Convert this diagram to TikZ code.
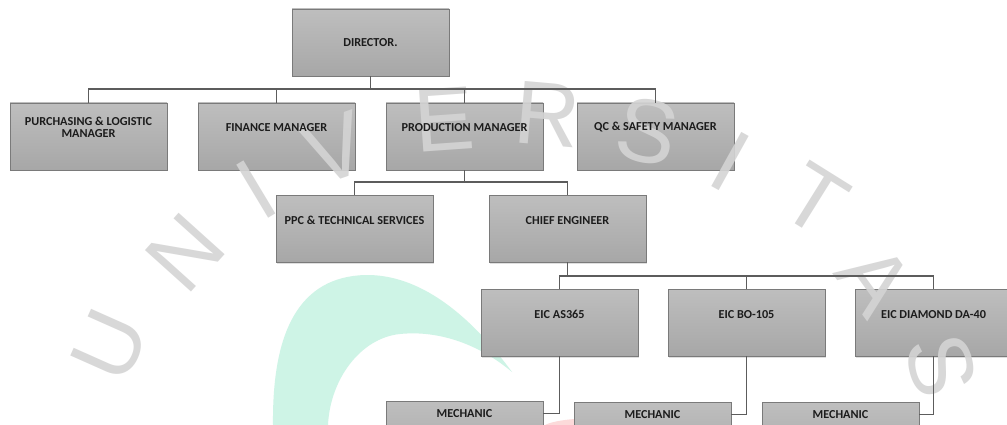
\documentclass[tikz,border=0pt]{standalone}
\usepackage{fontspec}
\setmainfont{Carlito}
\newfontfamily\wmfont{Liberation Sans}
\usetikzlibrary{shadows}
\definecolor{boxtop}{HTML}{BEBEBE}
\definecolor{boxbot}{HTML}{A7A7A7}
\definecolor{boxedge}{HTML}{7A7A7A}
\definecolor{linkcol}{HTML}{5C5C5C}
\definecolor{lbltext}{HTML}{1C1C1C}
\definecolor{wmcol}{HTML}{D4D4D4}
\definecolor{tealwm}{HTML}{CEF4E6}
\definecolor{pinkwm}{HTML}{FCDADA}
\begin{document}
\begin{tikzpicture}[x=1pt,y=-1pt,
  orgbox/.style={draw=boxedge, line width=0.9pt, top color=boxtop, bottom color=boxbot,
    minimum width=157pt, minimum height=67pt, inner sep=0pt,
    drop shadow={shadow xshift=1pt, shadow yshift=-1.5pt, opacity=0.25}},
  lbl/.style={font=\bfseries\fontsize{12.2}{11.8}\selectfont, text=lbltext, align=center, inner sep=0pt},
  link/.style={draw=linkcol, line width=1.4pt},
  wm/.style={font=\wmfont\fontsize{90}{90}\selectfont, text=wmcol, text opacity=0.9, inner sep=0pt}]
\useasboundingbox (0,0) rectangle (1007,425);
\begin{scope}
\clip (0,0) rectangle (1007,425);
\fill[white] (0,0) rectangle (1007,425);
% watermark background shapes
\fill[tealwm] (273,425) .. controls (272,330) and (300,277) .. (365,275)
  .. controls (420,274) and (470,315) .. (512,372)
  .. controls (480,345) and (440,330) .. (400,334)
  .. controls (360,338) and (330,380) .. (328,425) -- cycle;
\fill[pinkwm] (545,425) .. controls (560,417) and (620,415) .. (645,425) -- cycle;
% boxes
\node[orgbox] (dir) at (370.5,42.5) {};
\node[orgbox] (pur) at (88.5,136.5) {};
\node[orgbox] (fin) at (276.5,136.5) {};
\node[orgbox] (prod) at (464.5,136.5) {};
\node[orgbox] (qc) at (655.5,136.5) {};
\node[orgbox] (ppc) at (354.5,228.5) {};
\node[orgbox] (chief) at (567.5,228.5) {};
\node[orgbox] (as) at (559.5,322.5) {};
\node[orgbox] (bo) at (746.5,322.5) {};
\node[orgbox] (dia) at (933.5,322.5) {};
\node[orgbox] (m1) at (464.5,434.5) {};
\node[orgbox] (m2) at (652.5,435.5) {};
\node[orgbox] (m3) at (840.5,435.5) {};
% watermark letters
\node[wm, rotate=66] (wU) at (110,345) {U};
\node[wm, rotate=48] (wN) at (185,253) {N};
\node[wm, rotate=31] (wI1) at (256,190) {I};
\node[wm, rotate=19] (wV) at (335,148) {V};
\node[wm, rotate=4] (wE) at (444,120) {E};
\node[wm, rotate=-5] (wR) at (548,114) {R};
\node[wm, rotate=-12] (wS1) at (647,131) {S};
\node[wm, rotate=-29] (wI2) at (730,161) {I};
\node[wm, rotate=-32] (wT) at (815,200) {T};
\node[wm, rotate=-54] (wA) at (875,280) {A};
\node[wm, rotate=-75] (wS2) at (941,365) {S};
% labels
\node[lbl] (dirt) at (dir.center) {DIRECTOR.};
\node[lbl] (purt) at ([yshift=-25pt]pur.north) {PURCHASING \& LOGISTIC\\MANAGER};
\node[lbl] (fint) at ([yshift=-25pt]fin.north) {FINANCE MANAGER};
\node[lbl] (prodt) at ([yshift=-25pt]prod.north) {PRODUCTION MANAGER};
\node[lbl] (qct) at ([yshift=-25pt]qc.north) {QC \& SAFETY MANAGER};
\node[lbl] (ppct) at ([yshift=-26pt]ppc.north) {PPC \& TECHNICAL SERVICES};
\node[lbl] (chieft) at ([yshift=-26pt]chief.north) {CHIEF ENGINEER};
\node[lbl] (ast) at ([yshift=-26pt]as.north) {EIC AS365};
\node[lbl] (bot) at ([yshift=-26pt]bo.north) {EIC BO-105};
\node[lbl] (diat) at ([yshift=-26pt]dia.north) {EIC DIAMOND DA-40};
\node[lbl] (m1t) at ([yshift=-13pt]m1.north) {MECHANIC};
\node[lbl] (m2t) at ([yshift=-13pt]m2.north) {MECHANIC};
\node[lbl] (m3t) at ([yshift=-13pt]m3.north) {MECHANIC};
% connectors
\coordinate (b1) at (0,89);
\coordinate (b2) at (0,182);
\coordinate (b3) at (0,276);
\draw[link] (dir.south) -- (dir.south |- b1);
\draw[link] (pur.north) -- (pur.north |- b1) -- (qc.north |- b1) -- (qc.north);
\draw[link] (fin.north) -- (fin.north |- b1);
\draw[link] (prod.north) -- (prod.north |- b1);
\draw[link] (prod.south) -- (prod.south |- b2);
\draw[link] (ppc.north) -- (ppc.north |- b2) -- (chief.north |- b2) -- (chief.north);
\draw[link] (chief.south) -- (chief.south |- b3);
\draw[link] (as.north) -- (as.north |- b3) -- (dia.north |- b3) -- (dia.north);
\draw[link] (bo.north) -- (bo.north |- b3);
\draw[link] (as.south) |- ([yshift=-13pt]m1.north east);
\draw[link] (bo.south) |- ([yshift=-13pt]m2.north east);
\draw[link] (dia.south) |- ([yshift=-13pt]m3.north east);
\end{scope}
\end{tikzpicture}
\end{document}
